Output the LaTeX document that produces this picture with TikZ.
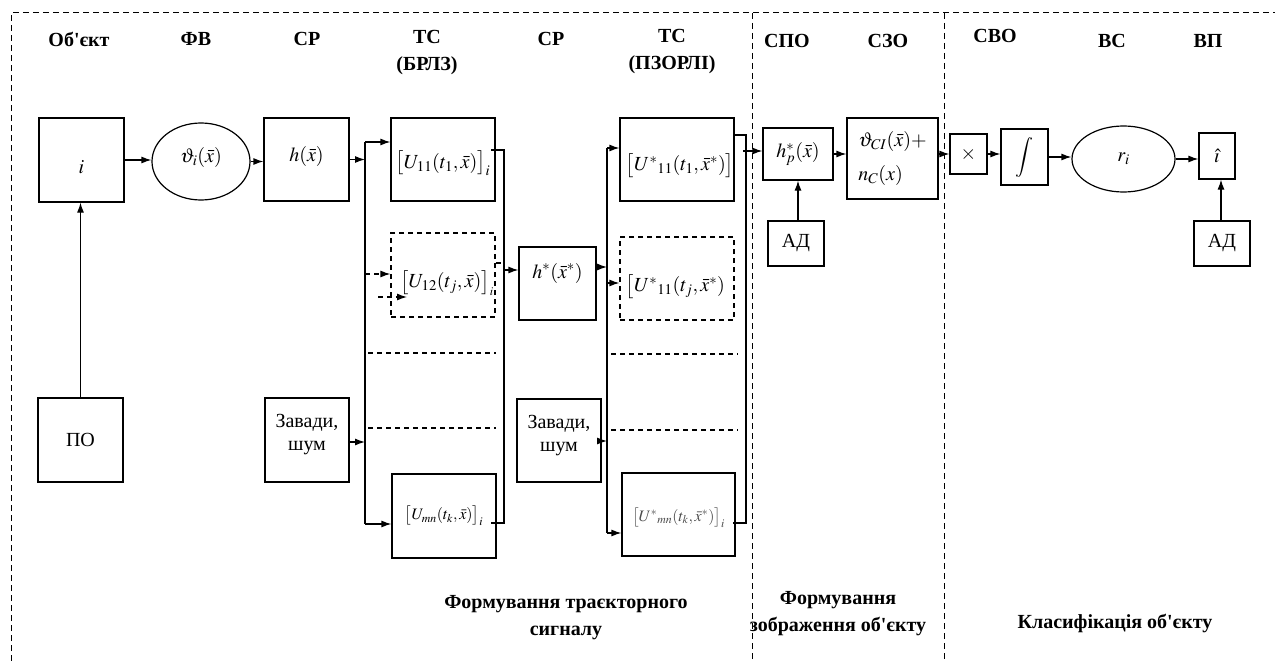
\documentclass[tikz,border=0pt]{standalone}
\usepackage{mathptmx}
\usepackage{fontspec}
\setmainfont{Liberation Serif}[Ligatures=TeXOff]
\usetikzlibrary{arrows.meta,shapes.geometric}
\tikzset{
  every node/.style={font=\fontsize{20}{23}\selectfont, inner sep=0pt},
  line/.style={line width=1.2pt},
  dsh/.style={line width=1.2pt, dash pattern=on 5pt off 4pt},
  arr/.style={line, -{Latex[length=10pt,width=7pt]}},
  darr/.style={dsh, -{Latex[length=10pt,width=7pt]}},
  box/.style={draw, line width=1.2pt, rectangle},
  dbox/.style={box, dash pattern=on 5pt off 4pt},
  ell/.style={draw, line width=1.2pt, ellipse},
  frame/.style={line width=1pt, dash pattern=on 6pt off 4pt},
  lbl/.style={font=\fontsize{20}{27}\selectfont\bfseries, align=center},
  small/.style={font=\fontsize{16}{19}\selectfont}
}
\begin{document}
\begin{tikzpicture}[x=1pt,y=-1pt]
\useasboundingbox (0,0) rectangle (1275,661);
% frame and dividers
\coordinate (fbl) at (11,661);
\coordinate (ftl) at (11,13);
\coordinate (ftr) at (1275,13);
\coordinate (v1t) at (752,13);
\coordinate (v1b) at (752,661);
\coordinate (v2t) at (944,13);
\coordinate (v2b) at (944,661);
\draw[frame] (fbl) -- (ftl) -- (ftr);
\draw[frame] (v1t) -- (v1b);
\draw[frame] (v2t) -- (v2b);

% top labels
\node[lbl] (l1) at (79,39) {Об'єкт};
\node[lbl] (l2) at (196,39) {ФВ};
\node[lbl] (l3) at (307,39) {СР};
\node[lbl] (l4) at (427,53) {ТС\\(БРЛЗ)};
\node[lbl] (l5) at (551,39) {СР};
\node[lbl] (l6) at (672,52) {ТС\\(ПЗОРЛІ)};
\node[lbl] (l7) at (787,41) {СПО};
\node[lbl] (l8) at (888,41) {СЗО};
\node[lbl] (l9) at (995,36) {СВО};
\node[lbl] (l10) at (1112,41) {ВС};
\node[lbl] (l11) at (1208,41) {ВП};

% bottom labels
\node[lbl] (b1) at (566,618) {Формування траєкторного\\сигналу};
\node[lbl] (b2) at (838,614) {Формування\\зображення об'єкту};
\node[lbl] (b3) at (1115,623) {Класифікація об'єкту};

% blocks
\node[box, minimum width=85pt, minimum height=84pt, label={[yshift=-7pt]center:$i$}] (obj) at (81.5,160) {};
\node[box, minimum width=85pt, minimum height=84pt] (po) at (80.5,440) {ПО};
\node[ell, minimum width=98pt, minimum height=77pt, label={[yshift=4pt]center:$\vartheta_{i}(\bar{x})$}] (fv) at (201,161.5) {};
\node[box, minimum width=85pt, minimum height=83pt, label={[yshift=3pt]center:$h(\bar{x})$}] (cp1) at (306.5,159.5) {};
\node[box, minimum width=84pt, minimum height=84pt, align=center, label={[align=center,yshift=5pt]center:Завади,\\шум}] (noise1) at (307,440) {};

\node[box, minimum width=104pt, minimum height=83pt, label={[yshift=-4pt]center:$\bigl[U_{11}(t_{1},\bar{x})\bigr]_{i}$}] (u11) at (443,159.5) {};
\node[dbox, minimum width=104pt, minimum height=84pt, label={[xshift=4pt,yshift=-8pt]center:$\bigl[U_{12}(t_{j},\bar{x})\bigr]_{\scriptscriptstyle i}$}] (u12) at (443,275) {};
\node[box, minimum width=104pt, minimum height=84pt, label={[small]center:$\bigl[U_{mn}(t_{k},\bar{x})\bigr]_{i}$}] (umn) at (444,516) {};

\node[box, minimum width=77pt, minimum height=73pt, label={[yshift=10.5pt]center:$h^{*}(\bar{x}^{*})$}] (hs) at (557.5,283.5) {};
\node[box, minimum width=84pt, minimum height=83pt, align=center, label={[align=center,yshift=5pt]center:Завади,\\шум}] (noise2) at (559,440.5) {};

\node[box, minimum width=114pt, minimum height=83pt, label={[xshift=3pt,yshift=-6pt]center:$\bigl[U^{*}{}_{11}(t_{1},\bar{x}^{*})\bigr]$}] (us11) at (677,159.5) {};
\node[dbox, minimum width=114pt, minimum height=83pt, label={[xshift=0pt,yshift=-8pt]center:$\bigl[U^{*}{}_{11}(t_{j},\bar{x}^{*})$\,}] (us1j) at (677,278.5) {};
\node[box, minimum width=113pt, minimum height=83pt, label={[small,text=black!70,yshift=-3pt]center:$\bigl[U^{*}{}_{mn}(t_{k},\bar{x}^{*})\bigr]_{i}$}] (usmn) at (678.5,514.5) {};

\node[box, minimum width=70pt, minimum height=52pt] (hp) at (798,154) {$h^{*}_{p}(\bar{x})$};
\node[box, minimum width=56pt, minimum height=45pt] (ad1) at (796,243.5) {АД};
\node[box, minimum width=91pt, minimum height=81pt, align=left, font=\fontsize{20}{34}\selectfont] (szo) at (892.5,158.5) {$\vartheta_{CI}(\bar{x})+$\\$n_{C}(x)$};

\node[box, minimum width=37pt, minimum height=40pt] (mul) at (968.5,154) {$\times$};
\node[box, minimum width=47pt, minimum height=56pt] (int) at (1024.5,157) {$\displaystyle\int$};
\node[ell, minimum width=103pt, minimum height=66pt] (ri) at (1123.5,159) {$r_{i}$};
\node[box, minimum width=36pt, minimum height=46pt] (ihat) at (1217,156) {$\hat{\imath}$};
\node[box, minimum width=56pt, minimum height=45pt] (ad2) at (1222,243.5) {АД};

% chain connectors
\draw[arr] (po.north) -- (po.north |- obj.south);
\draw[arr] (obj.east) -- (obj.east -| fv.west);
\draw[arr] (fv.east) -- (fv.east -| cp1.west);

% bus 1
\coordinate (b1t) at (365,142);
\coordinate (b1b) at (365,524);
\draw[line] (b1t) -- (b1b);
\draw[arr] (cp1.east) -- (cp1.east -| b1t);
\draw[arr] (noise1.east |- 0,442) -- (b1t |- 0,442);
\draw[arr] (b1t) -- (b1t -| u11.west);
\draw[arr] (b1b) -- (b1b -| umn.west);
\coordinate (d1) at (365,274);
\draw[darr] (d1) -- (d1 -| u12.west);
\coordinate (d2) at (378,297);
\coordinate (d2e) at (407,297);
\draw[darr] (d2) -- (d2e);
\coordinate (s1a) at (368,353);
\coordinate (s1b) at (496,353);
\coordinate (s2a) at (368,428);
\coordinate (s2b) at (496,428);
\draw[dsh] (s1a) -- (s1b);
\draw[dsh] (s2a) -- (s2b);

% right bus 1
\coordinate (r1t) at (504,150);
\coordinate (r1b) at (504,523);
\coordinate (r1m) at (504,270);
\coordinate (r1d) at (504,263);
\draw[line] (491,150) -- (r1t) -- (r1b) -- (491,523);
\draw[dsh] (u12.east |- r1d) -- (r1d);
\draw[arr] (r1m) -- (r1m -| hs.west);

% bus 2
\coordinate (b2t) at (607,148);
\coordinate (b2b) at (607,533);
\draw[line] (b2t) -- (b2b);
\draw[arr] (b2t) -- (b2t -| us11.west);
\draw[arr] (b2b) -- (b2b -| usmn.west);
\draw[darr] (hs.east |- 0,267) -- (b2t |- 0,267);
\draw[darr] (b2t |- 0,283) -- (us1j.west |- 0,283);
\draw[arr] (noise2.east |- 0,441) -- (b2t |- 0,441);
\coordinate (s3a) at (611,354);
\coordinate (s3b) at (738,354);
\coordinate (s4a) at (611,430);
\coordinate (s4b) at (738,430);
\draw[dsh] (s3a) -- (s3b);
\draw[dsh] (s4a) -- (s4b);

% right bus 2
\coordinate (r2t) at (746,135);
\coordinate (r2b) at (746,523);
\draw[line] (us11.east |- r2t) -- (r2t) -- (r2b) -- (733,523);
\draw[arr] (743,151) -- (hp.west |- 0,151);

% right chain
\draw[arr] (hp.east) -- (hp.east -| szo.west);
\draw[arr] (szo.east |- mul.west) -- (mul.west);
\draw[arr] (mul.east) -- (mul.east -| int.west);
\draw[arr] (int.east) -- (int.east -| ri.west);
\draw[arr] (ri.east) -- (ri.east -| ihat.west);
\draw[arr] (hp.south |- ad1.north) -- (hp.south);
\draw[arr] (ad2.north -| 1221,0) -- (ihat.south -| 1221,0);
\end{tikzpicture}
\end{document}
